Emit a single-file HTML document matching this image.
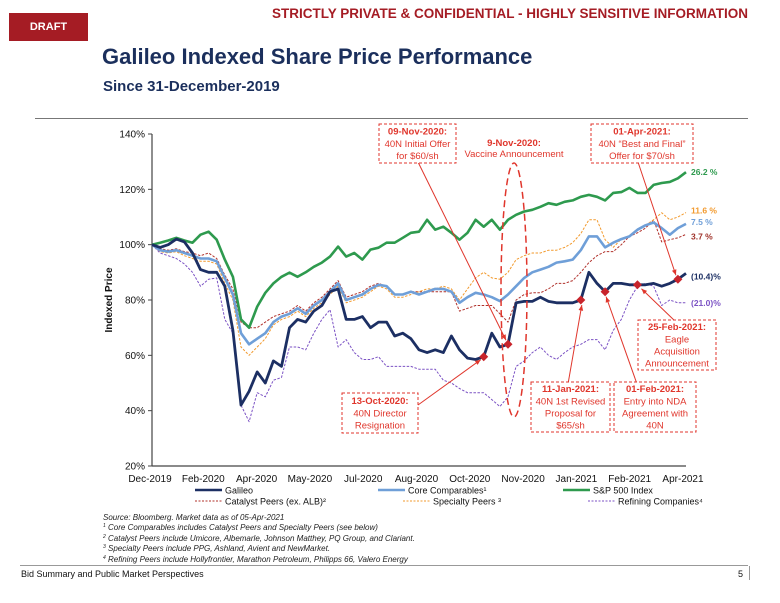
<!DOCTYPE html>
<html><head><meta charset="utf-8">
<style>
body{margin:0;width:780px;height:603px;background:#fff;font-family:"Liberation Sans",Arial,sans-serif;overflow:hidden;position:relative}
.abs{position:absolute;white-space:nowrap}
.fn{height:10.4px;line-height:10.4px}
.fn sup{font-size:5px;vertical-align:top;line-height:6px}
</style></head>
<body>
<div class="abs" style="left:9px;top:13px;width:79px;height:28px;background:#a51c24;color:#fff;font-weight:bold;font-size:11px;line-height:28px;text-align:center">DRAFT</div>
<div class="abs" style="left:175px;top:6px;width:573px;text-align:right;color:#a51c24;font-weight:bold;font-size:13.5px">STRICTLY PRIVATE &amp; CONFIDENTIAL - HIGHLY SENSITIVE INFORMATION</div>
<div class="abs" style="left:102px;top:44px;color:#1b2f5c;font-weight:bold;font-size:22px">Galileo Indexed Share Price Performance</div>
<div class="abs" style="left:103px;top:78px;color:#1b2f5c;font-weight:bold;font-size:15px">Since 31-December-2019</div>
<div class="abs" style="left:35px;top:118px;width:713px;height:1px;background:#777"></div>

<svg class="abs" style="left:0;top:0" width="780" height="603">
<g id="axes"></g>
<g id="series"></g>
<g id="annot"></g>
</svg>

<div class="abs" style="left:103px;top:513px;font-size:8px;font-style:italic;color:#222">
<div class="fn">Source: Bloomberg. Market data as of 05-Apr-2021</div>
<div class="fn"><sup>1</sup> Core Comparables includes Catalyst Peers and Specialty Peers (see below)</div>
<div class="fn"><sup>2</sup> Catalyst Peers include Umicore, Albemarle, Johnson Matthey, PQ Group, and Clariant.</div>
<div class="fn"><sup>3</sup> Specialty Peers include PPG, Ashland, Avient and NewMarket.</div>
<div class="fn"><sup>4</sup> Refining Peers include Hollyfrontier, Marathon Petroleum, Philipps 66, Valero Energy</div>
</div>
<div class="abs" style="left:20px;top:565px;width:728px;height:1px;background:#999"></div>
<div class="abs" style="left:21px;top:569px;font-size:9px;color:#111">Bid Summary and Public Market Perspectives</div>
<div class="abs" style="left:738px;top:569px;font-size:9px;color:#111">5</div>
<div class="abs" style="left:749px;top:566px;width:1px;height:14px;background:#999"></div>

<script>
const yTicks=[20,40,60,80,100,120,140];
const xLabels=["Dec-2019","Feb-2020","Apr-2020","May-2020","Jul-2020","Aug-2020","Oct-2020","Nov-2020","Jan-2021","Feb-2021","Apr-2021"];
const galileo=[100,99,100,102,101,97,91,90,90,85,69,42,47,54,50,58,56,70,73,72,76,78,83,84,73,73,74,70,72,72,67,68,66,62,61,62,61,67,62,59,58.5,59.5,68,63,64,79,79.5,79.5,81,79.5,79,79,79,80,90,86,83,86,86,85.5,85.5,85.5,86,85,86,87.5,89.6];
const sp500=[100,100.7,101.5,102.5,101.5,100.7,103.6,104.7,101.8,94.6,88.4,73,70,77.6,82.6,86,88.4,89.9,88.4,90,92,93.5,95.7,99.3,95.7,97,94.6,98.2,98.9,100.7,100.7,102.5,104.3,104.7,109,105.4,106.5,104.3,101.8,104.3,109,106.5,109,105.4,109,110.8,112,112.6,113.7,115,114.4,115.5,116,117.3,118,117.3,116,118.7,119,120.5,118.7,118.7,121.6,122.3,122.7,124,126.2];
const core=[100,98,97.5,98,97,96,95,95,94,88,82,68,64,66,68,72,74,75,77,75,78,80,83,86,80,81,82,84,85.5,85,82,82,83,82,83,84,84,83,79,81,82.6,82,81,79.6,82,85,88,90,91,92,93.5,94,94.6,98,103,103,99,100.7,102,103,105.4,107,108,106,103.6,106,107.5];
const specialty=[100,97.5,97,97.5,96,95,94,94,93,86,80,63,60,63,66,71,73,74,76,74,77,79,82,85,79,80,81,83,85,84,81,81,82,83,84,84,85,84,80,84,88,90,88,87.5,90,94.6,96,97,97,98,98,99,100.7,104,109,109,101.8,99,102,103,105.4,107,109,111.5,109,110,111.6];
const catalyst=[100,98.5,98,98.5,97.5,97,96,97,95,89,84,72,70,70,72,74,75,76,78,76,79,81,84,87,81,82,83,85,86,85,82,82,83,83,83,83,83,83,76,77,78,78,78,75,72,80,82,82.6,82.6,84,86,86,87,90,93.5,96,97.5,97.5,100,103,104.3,106,109,101,101.8,102.5,103.7];
const refining=[100,97,96,95,93,90,85,87.5,88,73,68,42,36,46.5,45,51,52,63,63,62,68,73,76.5,63,65.7,61,58.5,58.5,59.5,56,56,56,56,55,55,55,51,50,48,46.5,46.5,46.5,44,41.5,45,56,58,61,63,60,58.5,61,63,64,65.7,65.7,62,69,73,80,85,86,85,78,80,79,79];
const markerIdx=[41,44,53,56,60,65];
const endLabels=["26.2 %","11.6 %","7.5 %","3.7 %","(10.4)%","(21.0)%"];

const NS="http://www.w3.org/2000/svg";
const X0=152,X1=686,Y0=466,Y1=134,VMIN=20,VMAX=140,N=galileo.length;
const xs=i=>X0+i*(X1-X0)/(N-1);
const ys=v=>Y0-(v-VMIN)*(Y0-Y1)/(VMAX-VMIN);
function mk(tag,attrs,parent,text){const e=document.createElementNS(NS,tag);for(const k in attrs)e.setAttribute(k,attrs[k]);if(text!==undefined)e.textContent=text;parent.appendChild(e);return e;}
const axes=document.getElementById('axes'),ser=document.getElementById('series'),ann=document.getElementById('annot');
let e=mk('line',{x1:X0,y1:Y1,x2:X0,y2:Y0,stroke:'#444','stroke-width':1.2},axes);


e=mk('line',{x1:X0,y1:Y0,x2:X1,y2:Y0,stroke:'#444','stroke-width':1.2},axes);


yTicks.forEach(t=>{
  mk('line',{x1:X0-4,y1:ys(t),x2:X0,y2:ys(t),stroke:'#444'},axes);
  const tx=mk('text',{x:X0-7,y:ys(t)+3.5,'text-anchor':'end','font-size':'10','fill':'#111'},axes,t+'%');
  
  
});
xLabels.forEach((l,i)=>{
  const x=150+i*53.3;
  const tx=mk('text',{x:x,y:482,'text-anchor':'middle','font-size':'10','fill':'#111'},axes,l);
  
  
});
const yt=mk('text',{x:0,y:0,transform:'translate(112,300) rotate(-90)','text-anchor':'middle','font-size':'10','font-weight':'bold',fill:'#111'},axes,'Indexed Price');



function line(data,color,w,dash,name){
  const d=data.map((v,i)=>(i?'L':'M')+xs(i).toFixed(1)+','+ys(v).toFixed(1)).join('');
  const p=mk('path',{d:d,fill:'none',stroke:color,'stroke-width':w,'stroke-dasharray':dash||'none','stroke-linejoin':'round'},ser);
  
  
}
line(refining,'#7b52c4',1,'2.5,1.5','refining-line');
line(catalyst,'#b0302a',1,'2.5,1.5','catalyst-line');
line(specialty,'#f29a2e',1,'2.5,1.5','specialty-line');
line(core,'#6f9fd8',2.6,null,'core-comparables-line');
line(sp500,'#2e9a4e',2.6,null,'sp500-line');
line(galileo,'#1c2f63',2.8,null,'galileo-line');
markerIdx.forEach(i=>{
  const x=xs(i),y=ys(galileo[i]);
  const m=mk('path',{d:`M${x},${y-4.5}L${x+4.5},${y}L${x},${y+4.5}L${x-4.5},${y}Z`,fill:'#c8242b'},ser);
  
  
});
const endVals=[sp500[N-1],specialty[N-1],core[N-1],catalyst[N-1],galileo[N-1],refining[N-1]];
const endCols=['#2e9a4e','#f29a2e','#6f9fd8','#a0332b','#1c2f63','#7b52c4'];
const endOff=[0,-2,-2,2,3,0];
endLabels.forEach((l,i)=>{
  const t=mk('text',{x:691,y:ys(endVals[i])+endOff[i]+3,'font-size':'8.5','font-weight':'bold',fill:endCols[i]},ser,l);
  
  
});
const RED='#e0362c';
function box(x,y,w,h,lines,name,boldFirst){
  const g=mk('g',{},ann);
  
  
  mk('rect',{x:x,y:y,width:w,height:h,fill:'#fff',stroke:RED,'stroke-dasharray':'3,2','stroke-width':1},g);
  const lh=12.2,top=y+(h-lines.length*lh)/2+9.5;
  lines.forEach((l,i)=>mk('text',{x:x+w/2,y:top+i*lh,'text-anchor':'middle','font-size':'9.5','font-weight':(i===0&&boldFirst)?'bold':'normal',fill:RED},g,l));
}
function arrow(x1,y1,x2,y2){
  const a=mk('line',{x1:x1,y1:y1,x2:x2,y2:y2,stroke:RED,'stroke-width':1},ann);
  
  
  const ang=Math.atan2(y2-y1,x2-x1),s=6;
  mk('path',{d:`M${x2},${y2}L${x2-s*Math.cos(ang-0.4)},${y2-s*Math.sin(ang-0.4)}L${x2-s*Math.cos(ang+0.4)},${y2-s*Math.sin(ang+0.4)}Z`,fill:RED},ann);
}
const el=mk('ellipse',{cx:514,cy:290,rx:13,ry:127,fill:'none',stroke:RED,'stroke-width':1.5,'stroke-dasharray':'7,4'},ann);


arrow(418,162,xs(44)-2,ys(galileo[44])-4);
arrow(638,162,xs(65)-2,ys(galileo[65])-4);
arrow(676,322,xs(60)+4,ys(galileo[60])+4);
arrow(637,384,xs(56)+1,ys(galileo[56])+5);
arrow(568,384,xs(53)+1,ys(galileo[53])+5);
arrow(418,405,xs(41)-3,ys(galileo[41])+3);
box(379,124,77,39,['09-Nov-2020:','40N Initial Offer','for $60/sh'],'annotation-initial-offer',true);
const vt=mk('g',{},ann);


mk('text',{x:514,y:146,'text-anchor':'middle','font-size':'9.5','font-weight':'bold',fill:RED},vt,'9-Nov-2020:');
mk('text',{x:514,y:157,'text-anchor':'middle','font-size':'9.5',fill:RED},vt,'Vaccine Announcement');
box(591,124,102,39,['01-Apr-2021:','40N “Best and Final”','Offer for $70/sh'],'annotation-best-final',true);
box(638,320,78,50,['25-Feb-2021:','Eagle','Acquisition','Announcement'],'annotation-eagle',true);
box(614,382,82,50,['01-Feb-2021:','Entry into NDA','Agreement with','40N'],'annotation-nda',true);
box(531,382,79,50,['11-Jan-2021:','40N 1st Revised','Proposal for','$65/sh'],'annotation-revised-proposal',true);
box(342,393,76,40,['13-Oct-2020:','40N Director','Resignation'],'annotation-director',true);
const legItems=[['Galileo','#1c2f63',null,195,493],['Core Comparables¹','#6f9fd8',null,378,493],['S&P 500 Index','#2e9a4e',null,563,493],
['Catalyst Peers (ex. ALB)²','#b0302a','2,1.5',170,504],['Specialty Peers ³','#f29a2e','2,1.5',378,504],['Refining Companies⁴','#7b52c4','2,1.5',563,504]];
const svg=document.querySelector('svg');
legItems.forEach(it=>{
  const g=mk('g',{},svg);
  
  
  mk('line',{x1:it[3]+(it[2]?25:0),y1:it[4]-3,x2:it[3]+(it[2]?52:27),y2:it[4]-3,stroke:it[1],'stroke-width':it[2]?1:2.5,'stroke-dasharray':it[2]||'none'},g);
  mk('text',{x:it[3]+(it[2]?55:30),y:it[4]+0.5,'font-size':'9',fill:'#111'},g,it[0]);
});
</script>
</body></html>
